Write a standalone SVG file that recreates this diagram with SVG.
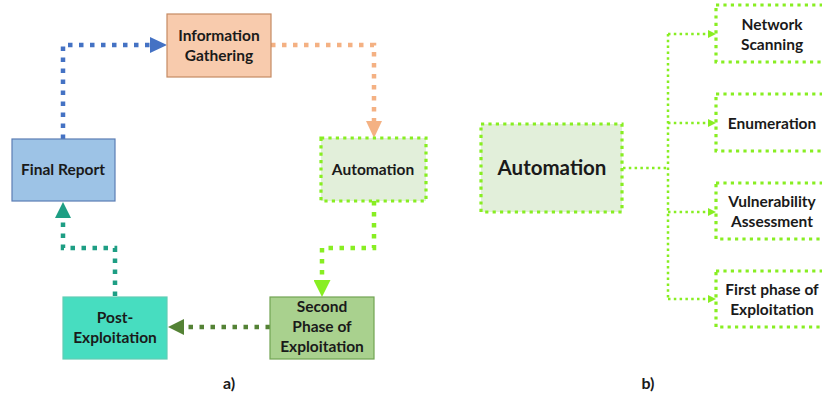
<svg xmlns="http://www.w3.org/2000/svg" width="822" height="398" viewBox="0 0 822 398">
<style>
text{font-family:Lato,"Liberation Sans",Arial,sans-serif;font-weight:bold;fill:#1a1a1a;text-anchor:middle;font-size:15.5px}
.big{font-size:20.5px}
.lab{font-size:16px}
.c{fill:none;stroke-width:4.5;stroke-dasharray:4.5 6.5}
.t{fill:none;stroke:#88EE22;stroke-width:2.5;stroke-dasharray:2.5 3.3}
.gb{stroke:#88EE22;stroke-width:3.2;stroke-dasharray:3.2 4.2}
</style>
<defs>
<marker id="ab" markerUnits="userSpaceOnUse" markerWidth="17" markerHeight="16" refX="0" refY="8" orient="auto"><path d="M0,0 L17,8 L0,16 z" fill="#4472C4"/></marker>
<marker id="ao" markerUnits="userSpaceOnUse" markerWidth="17" markerHeight="16" refX="0" refY="8" orient="auto"><path d="M0,0 L17,8 L0,16 z" fill="#F4B183"/></marker>
<marker id="ag" markerUnits="userSpaceOnUse" markerWidth="17" markerHeight="17" refX="0" refY="8.5" orient="auto"><path d="M0,0 L17,8.5 L0,17 z" fill="#88EE22"/></marker>
<marker id="ad" markerUnits="userSpaceOnUse" markerWidth="16" markerHeight="16" refX="0" refY="8" orient="auto"><path d="M0,0 L16,8 L0,16 z" fill="#548235"/></marker>
<marker id="at" markerUnits="userSpaceOnUse" markerWidth="16" markerHeight="16" refX="0" refY="8" orient="auto"><path d="M0,0 L16,8 L0,16 z" fill="#1E9E84"/></marker>
<marker id="as" markerUnits="userSpaceOnUse" markerWidth="8" markerHeight="8" refX="0" refY="4" orient="auto"><path d="M0,0 L8,4 L0,8 z" fill="#88EE22"/></marker>
</defs>
<g id="connectors">
<path class="c" stroke="#4472C4" d="M63,139 V45 H150" marker-end="url(#ab)"/>
<path class="c" stroke="#F4B183" d="M271,45 H374 V121" marker-end="url(#ao)"/>
<path class="c" stroke="#88EE22" d="M374,201 V248 H322 V280" marker-end="url(#ag)"/>
<path class="c" stroke="#548235" d="M270,327 H184" marker-end="url(#ad)"/>
<path class="c" stroke="#1E9E84" d="M115,296 V248 H63 V218" marker-end="url(#at)"/>
<path class="t" d="M623,168 H668"/>
<path class="t" d="M668,34 V299"/>
<path class="t" d="M668,34 H708" marker-end="url(#as)"/>
<path class="t" d="M668,123 H708" marker-end="url(#as)"/>
<path class="t" d="M668,212 H708" marker-end="url(#as)"/>
<path class="t" d="M668,299 H708" marker-end="url(#as)"/>
</g>
<g id="info-gathering">
<rect x="167" y="14" width="104" height="63" fill="#F8CBAD" stroke="#C58A63" stroke-width="1.2"/>
<text x="219" y="41">Information</text>
<text x="219" y="61">Gathering</text>
</g>
<g id="final-report">
<rect x="12" y="139" width="103" height="62" fill="#9DC3E6" stroke="#5B7DB4" stroke-width="1.2"/>
<text x="63" y="175">Final Report</text>
</g>
<g id="automation-a">
<rect x="321" y="138" width="105" height="63" fill="#E2EFDA" class="gb"/>
<text x="373" y="175">Automation</text>
</g>
<g id="second-phase">
<rect x="270" y="297" width="104" height="62" fill="#A9D18E" stroke="#72A453" stroke-width="1.2"/>
<text x="322" y="312">Second</text>
<text x="322" y="332">Phase of</text>
<text x="322" y="352">Exploitation</text>
</g>
<g id="post-exploitation">
<rect x="63" y="297" width="104" height="62" fill="#47DDC0" stroke="#62CDB5" stroke-width="1.2"/>
<text x="115" y="323">Post-</text>
<text x="115" y="343">Exploitation</text>
</g>
<g id="automation-b">
<rect x="481" y="124" width="141" height="88" fill="#E2EFDA" class="gb"/>
<text class="big" x="552" y="175">Automation</text>
</g>
<g id="network-scanning">
<rect x="716" y="5" width="120" height="57" fill="#FFFFFF" class="gb"/>
<text x="772" y="30">Network</text>
<text x="772" y="50">Scanning</text>
</g>
<g id="enumeration">
<rect x="716" y="94" width="120" height="57" fill="#FFFFFF" class="gb"/>
<text x="772" y="129">Enumeration</text>
</g>
<g id="vulnerability-assessment">
<rect x="716" y="183" width="120" height="56" fill="#FFFFFF" class="gb"/>
<text x="772" y="207">Vulnerability</text>
<text x="772" y="227">Assessment</text>
</g>
<g id="first-phase">
<rect x="716" y="271" width="120" height="56" fill="#FFFFFF" class="gb"/>
<text x="772" y="295">First phase of</text>
<text x="772" y="315">Exploitation</text>
</g>
<g id="captions">
<text class="lab" x="229" y="389">a)</text>
<text class="lab" x="648" y="389">b)</text>
</g>
</svg>
